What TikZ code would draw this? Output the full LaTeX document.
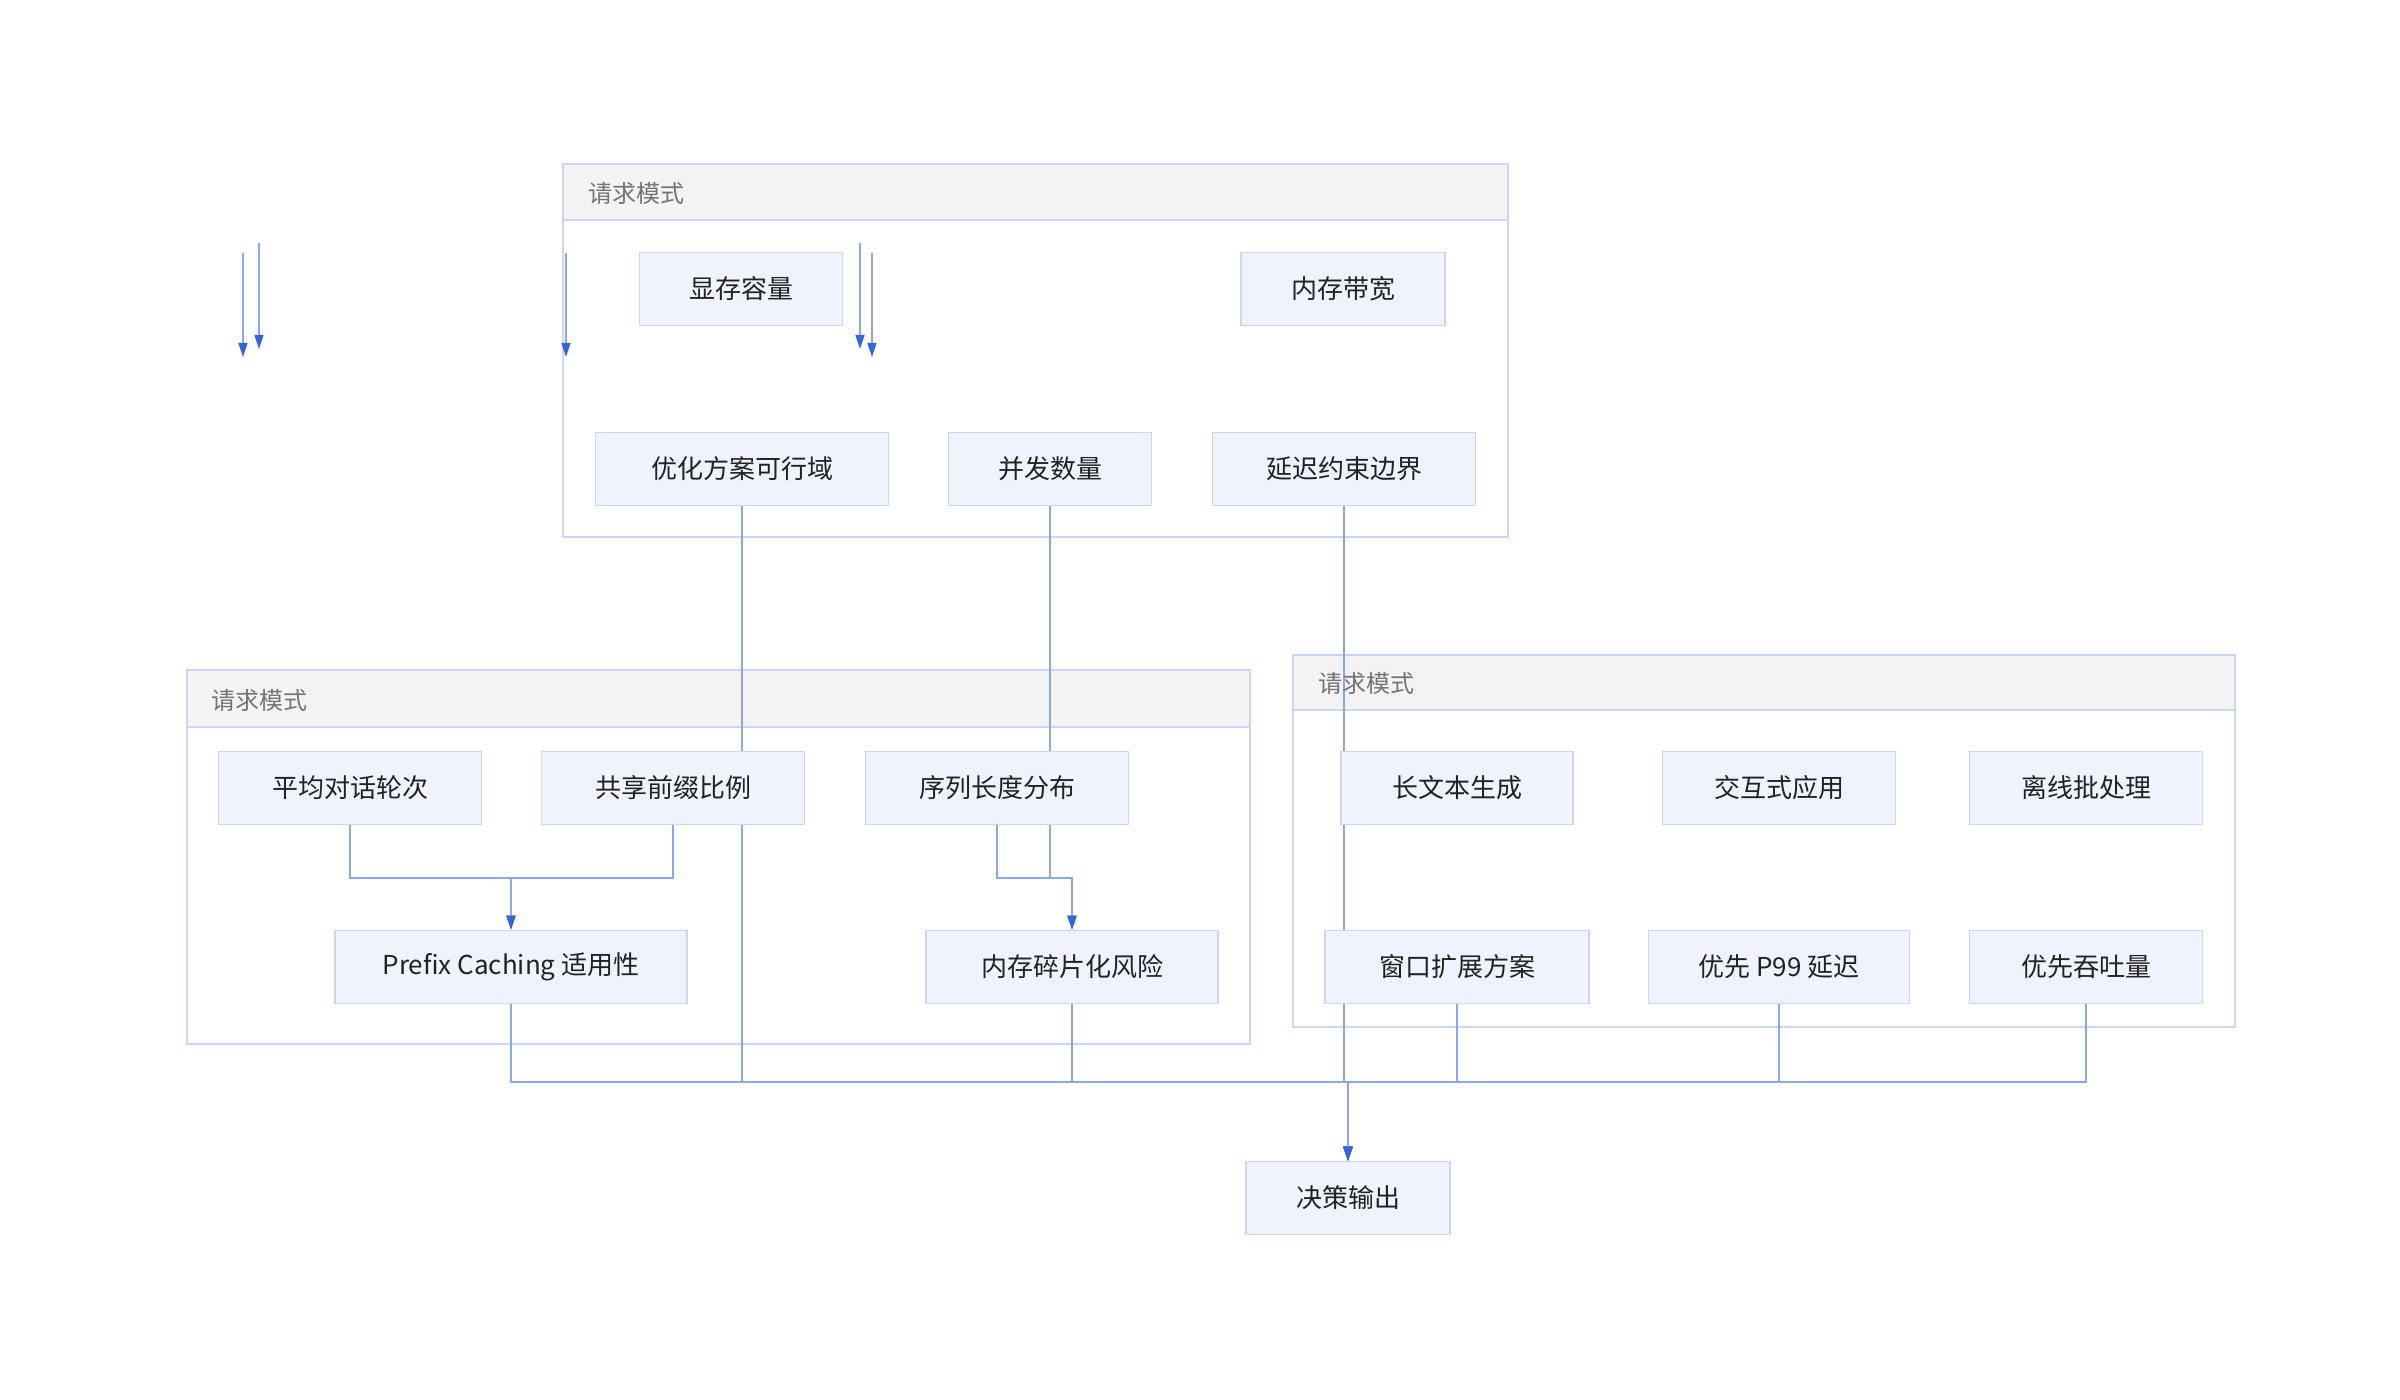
\documentclass[tikz,border=0pt]{standalone}
\usepackage{fontspec}
\setmainfont{Noto Sans CJK SC}
\usetikzlibrary{arrows.meta}
\pgfdeclarelayer{bg}
\pgfdeclarelayer{edges}
\pgfsetlayers{bg,edges,main}
\definecolor{nodefill}{HTML}{EEF3FE}
\definecolor{nodeline}{HTML}{CDD6F0}
\definecolor{clline}{HTML}{CCD5F1}
\definecolor{clhead}{HTML}{F3F3F4}
\definecolor{edgec}{HTML}{8AA7EA}
\definecolor{tipc}{HTML}{3366D6}
\definecolor{titlec}{HTML}{747474}
\definecolor{txtc}{HTML}{222222}
\tikzset{
  box/.style={draw=nodeline, line width=0.8pt, fill=nodefill, minimum height=36.5pt,
    inner sep=0pt, font=\fontsize{13}{15}\selectfont, text=txtc},
  wire/.style={draw=edgec, line width=0.8pt},
  arr/.style={wire, -{Stealth[inset=0pt,length=7pt,width=4.5pt,color=tipc]}},
  cltitle/.style={anchor=west, font=\fontsize{12}{14}\selectfont, text=titlec, inner sep=0pt},
}
\begin{document}
\begin{tikzpicture}[x=0.5pt,y=-0.5pt]
\useasboundingbox (0,0) rectangle (2400,1400);

% clusters
\begin{pgfonlayer}{bg}
  \fill[white] (0,0) rectangle (2400,1400);
  \fill[white] (563,164) rectangle (1508,537);
  \fill[clhead] (563,164) rectangle (1508,220);
  \draw[clline, line width=0.8pt] (563,220) -- (1508,220);
  \draw[clline, line width=0.8pt] (563,164) rectangle (1508,537);
  \fill[white] (187,670) rectangle (1250,1044);
  \fill[clhead] (187,670) rectangle (1250,727);
  \draw[clline, line width=0.8pt] (187,727) -- (1250,727);
  \draw[clline, line width=0.8pt] (187,670) rectangle (1250,1044);
  \fill[white] (1293,655) rectangle (2235,1027);
  \fill[clhead] (1293,655) rectangle (2235,710);
  \draw[clline, line width=0.8pt] (1293,710) -- (2235,710);
  \draw[clline, line width=0.8pt] (1293,655) rectangle (2235,1027);
\end{pgfonlayer}
\node[cltitle] (t1) at (588,193) {请求模式};
\node[cltitle] (t2) at (211,700) {请求模式};
\node[cltitle] (t3) at (1318,683) {请求模式};

% nodes
\node[box, minimum width=101.5pt] (xcrl) at (741,289) {显存容量};
\node[box, minimum width=102pt] (ncdk) at (1343,289) {内存带宽};
\node[box, minimum width=146.5pt] (yhfa) at (742,469) {优化方案可行域};
\node[box, minimum width=101.5pt] (bfsl) at (1050,469) {并发数量};
\node[box, minimum width=131.5pt] (ycys) at (1344,469) {延迟约束边界};

\node[box, minimum width=131.5pt] (pjdh) at (350,788) {平均对话轮次};
\node[box, minimum width=131.5pt] (gxqz) at (673,788) {共享前缀比例};
\node[box, minimum width=131.5pt] (xlcd) at (997,788) {序列长度分布};
\node[box, minimum width=176pt] (prefix) at (511,967) {Prefix Caching 适用性};
\node[box, minimum width=146pt] (ncsp) at (1072,967) {内存碎片化风险};

\node[box, minimum width=116pt] (cwb) at (1457,788) {长文本生成};
\node[box, minimum width=116.5pt] (jhs) at (1779,788) {交互式应用};
\node[box, minimum width=116.5pt] (lxp) at (2086,788) {离线批处理};
\node[box, minimum width=132pt] (ckkz) at (1457,967) {窗口扩展方案};
\node[box, minimum width=130.5pt] (p99) at (1779,967) {优先 P99 延迟};
\node[box, minimum width=116.5pt] (ttl) at (2086,967) {优先吞吐量};

\node[box, minimum width=102pt] (jcsc) at (1348,1198) {决策输出};

% helper coordinates
\coordinate (m1) at (0,878);
\coordinate (bus) at (0,1082);
\coordinate (o1a) at (243,253); \coordinate (o1b) at (243,357);
\coordinate (o2a) at (259,243); \coordinate (o2b) at (259,349);
\coordinate (o3a) at (566,253); \coordinate (o3b) at (566,357);
\coordinate (o4a) at (860,243); \coordinate (o4b) at (860,349);
\coordinate (o5a) at (872,253); \coordinate (o5b) at (872,357);

\begin{pgfonlayer}{edges}
  \draw[arr] (o1a) -- (o1b);
  \draw[arr] (o2a) -- (o2b);
  \draw[arr] (o3a) -- (o3b);
  \draw[arr] (o4a) -- (o4b);
  \draw[arr] (o5a) -- (o5b);

  \draw[arr] (pjdh.south) -- (pjdh.south |- m1) -| (prefix.north);
  \draw[arr] (gxqz.south) -- (gxqz.south |- m1) -| (prefix.north);
  \draw[arr] (xlcd.south) -- (xlcd.south |- m1) -| (ncsp.north);
  \draw[arr] (bfsl.south) -- (bfsl.south |- m1) -| (ncsp.north);

  \draw[arr] (yhfa.south) -- (yhfa.south |- bus) -| (jcsc.north);
  \draw[arr] (ycys.south) -- (ycys.south |- bus) -| (jcsc.north);
  \draw[arr] (prefix.south) -- (prefix.south |- bus) -| (jcsc.north);
  \draw[arr] (ncsp.south) -- (ncsp.south |- bus) -| (jcsc.north);
  \draw[arr] (ckkz.south) -- (ckkz.south |- bus) -| (jcsc.north);
  \draw[arr] (p99.south) -- (p99.south |- bus) -| (jcsc.north);
  \draw[arr] (ttl.south) -- (ttl.south |- bus) -| (jcsc.north);
\end{pgfonlayer}
\end{tikzpicture}
\end{document}
